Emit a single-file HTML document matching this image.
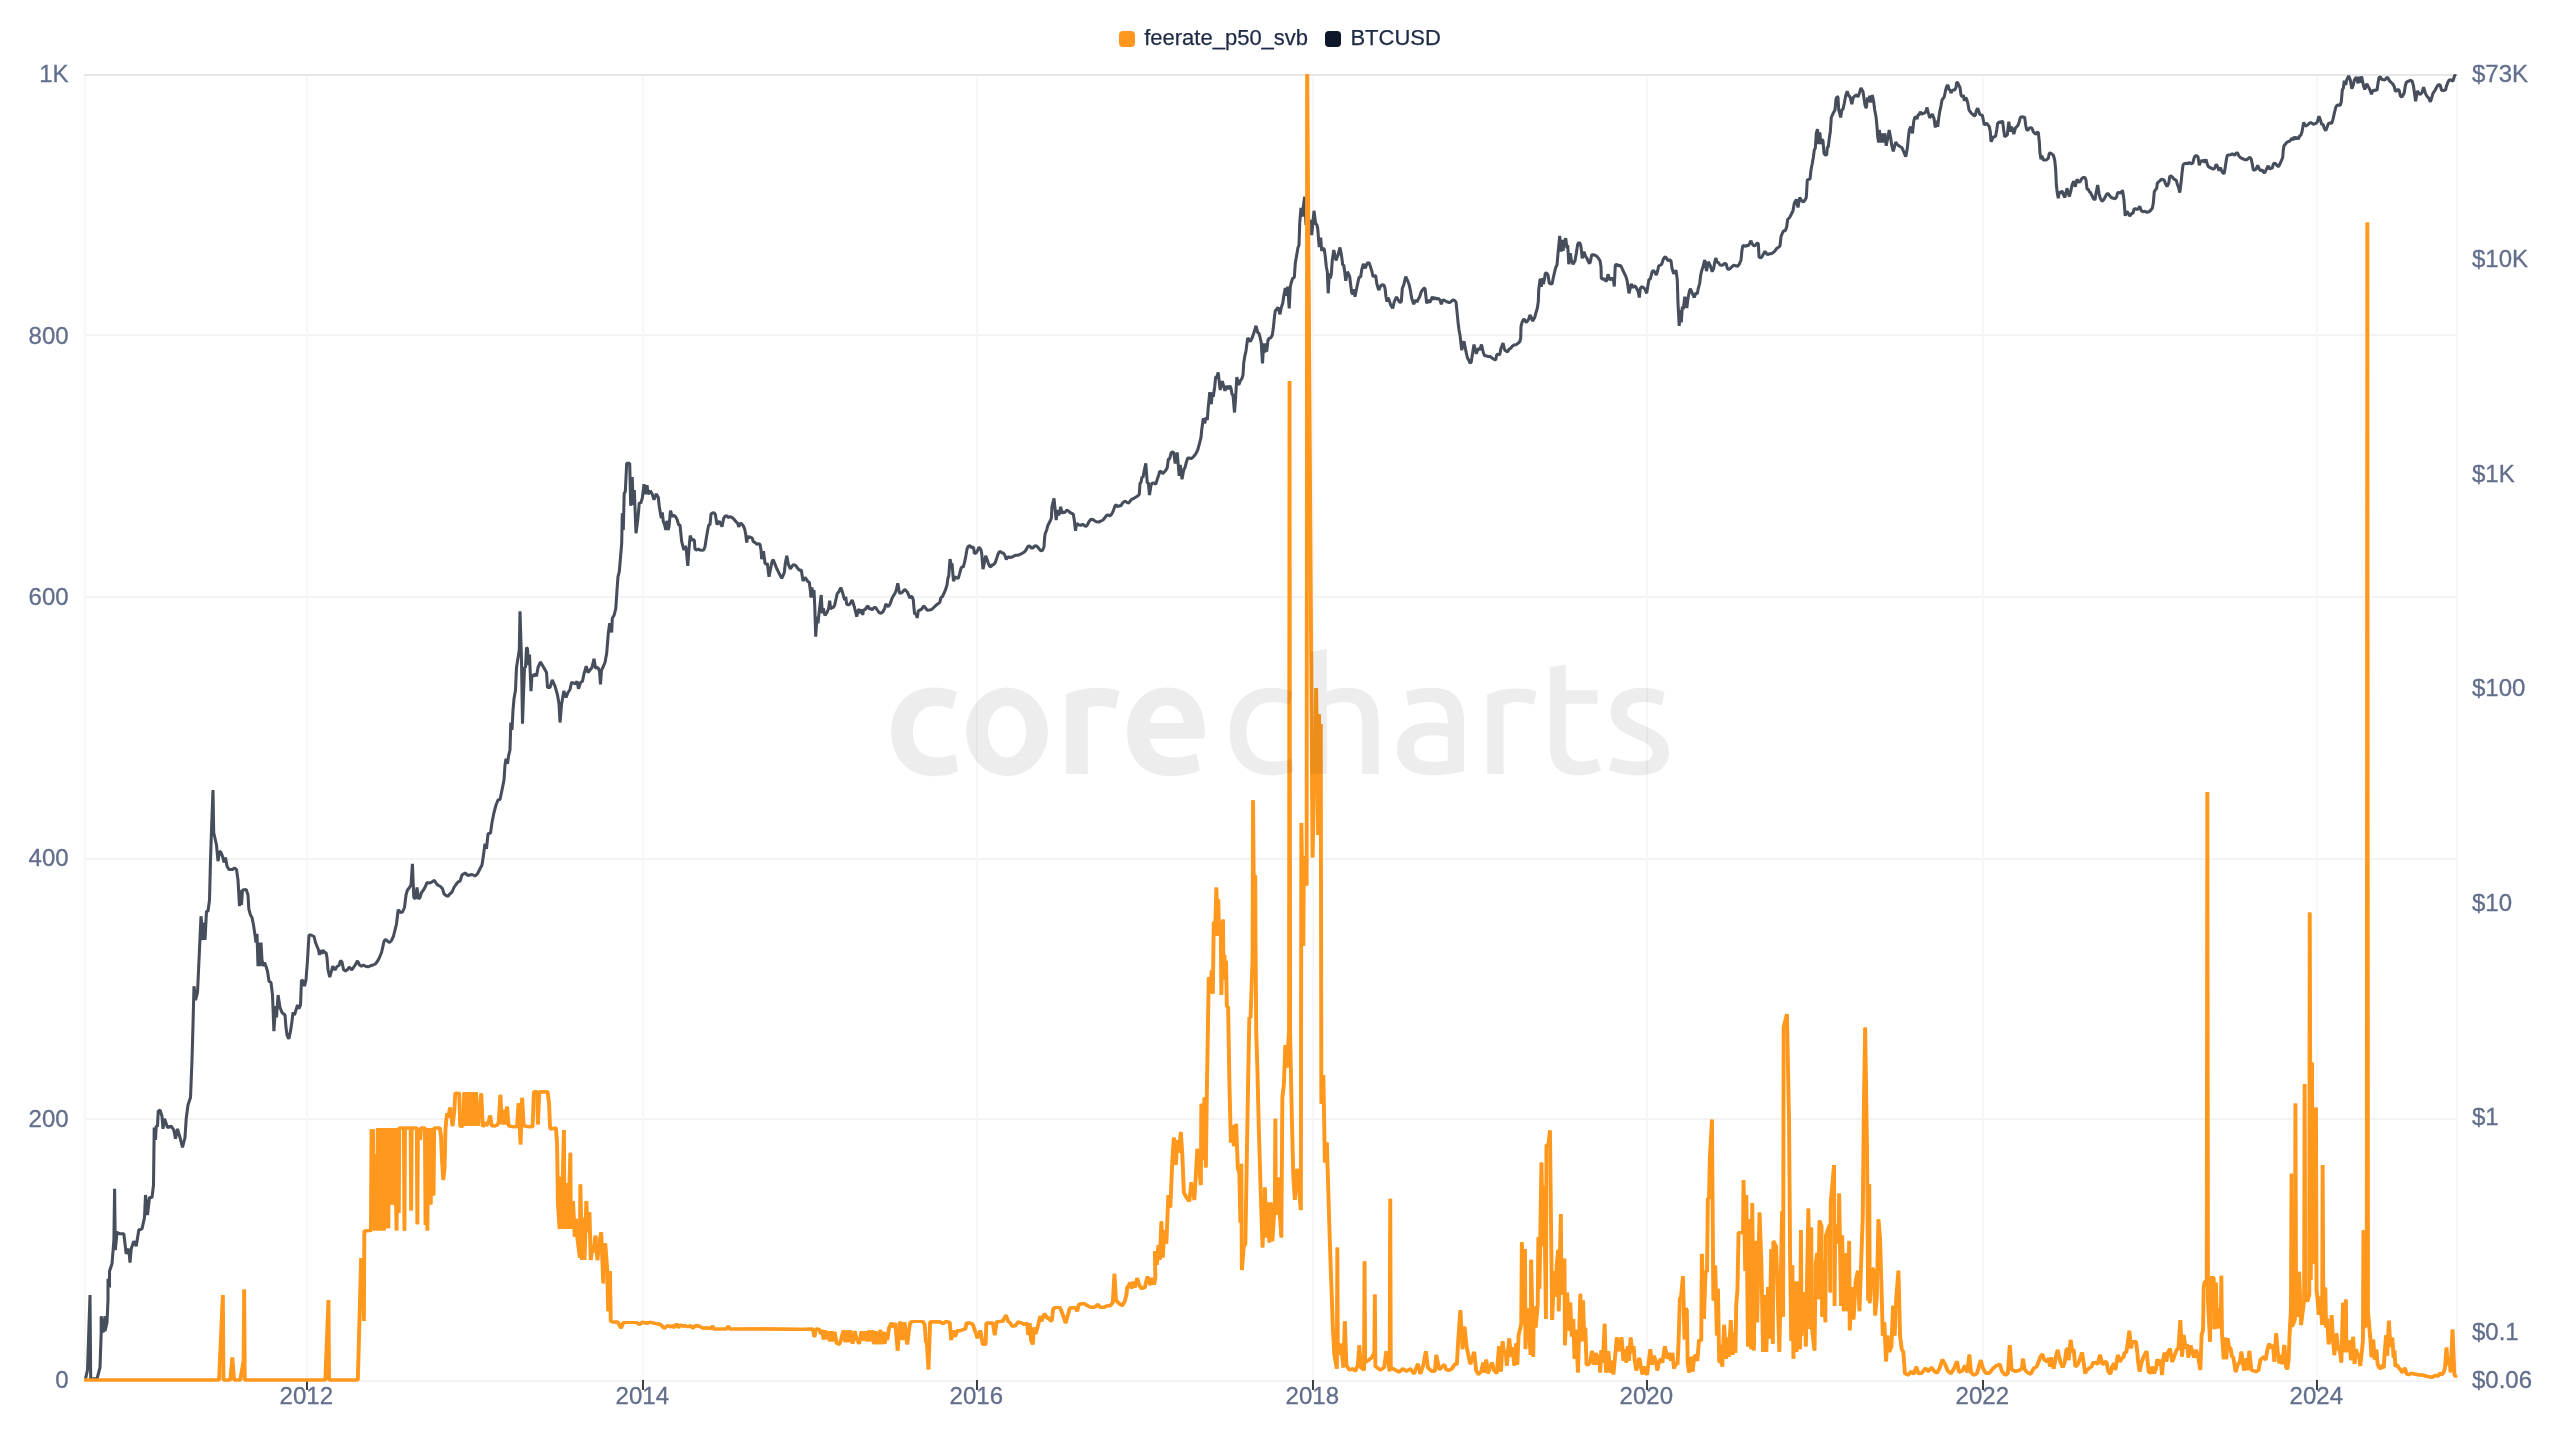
<!DOCTYPE html>
<html><head><meta charset="utf-8"><title>corecharts</title>
<style>html,body{margin:0;padding:0;background:#fff}body{width:2560px;height:1440px;position:relative;overflow:hidden;font-family:"Liberation Sans",sans-serif}</style></head>
<body>
<svg width="2560" height="1440" viewBox="0 0 2560 1440" style="position:absolute;left:0;top:0;display:block;will-change:transform">
<defs><clipPath id="cp"><rect x="83" y="74" width="2376" height="1309"/></clipPath></defs>
<rect x="85" y="334" width="2372" height="2" fill="#f2f3f5"/>
<rect x="85" y="596" width="2372" height="2" fill="#f2f3f5"/>
<rect x="85" y="858" width="2372" height="2" fill="#f2f3f5"/>
<rect x="85" y="1118" width="2372" height="2" fill="#f2f3f5"/>
<rect x="306" y="75" width="2" height="1305" fill="#f7f7f8"/>
<rect x="642" y="75" width="2" height="1305" fill="#f7f7f8"/>
<rect x="976" y="75" width="2" height="1305" fill="#f7f7f8"/>
<rect x="1312" y="75" width="2" height="1305" fill="#f7f7f8"/>
<rect x="1646" y="75" width="2" height="1305" fill="#f7f7f8"/>
<rect x="1982" y="75" width="2" height="1305" fill="#f7f7f8"/>
<rect x="2316" y="75" width="2" height="1305" fill="#f7f7f8"/>
<rect x="84" y="75" width="2" height="1305" fill="#f7f7f8"/>
<rect x="2456" y="75" width="2" height="1305" fill="#f7f7f8"/>
<rect x="84" y="74" width="2374" height="2" fill="#e5e7eb"/>
<rect x="84" y="1380" width="2374" height="2" fill="#f3f4f6"/>
<rect x="306" y="1380" width="2" height="10" fill="#3d3f47"/>
<rect x="642" y="1380" width="2" height="10" fill="#3d3f47"/>
<rect x="976" y="1380" width="2" height="10" fill="#3d3f47"/>
<rect x="1312" y="1380" width="2" height="10" fill="#3d3f47"/>
<rect x="1646" y="1380" width="2" height="10" fill="#3d3f47"/>
<rect x="1982" y="1380" width="2" height="10" fill="#3d3f47"/>
<rect x="2316" y="1380" width="2" height="10" fill="#3d3f47"/>
<g clip-path="url(#cp)" fill="none" stroke-linejoin="bevel" stroke-linecap="butt">
<path d="M85.5 1378.8L87.5 1370L90 1295L90.7 1378.8L97 1378.8L100 1367.5L101.2 1332.5L101.2 1316.2L103 1332.5L105 1316.2L105 1331.2L107 1322.5L108 1300L108 1278.8L109.5 1287.5L109.5 1271.2L112 1263.8L113.9 1240L114.6 1188.8L115.3 1250L117 1232.5L120 1233.8L123.8 1233.8L126.2 1253.8L128.8 1248.8L130 1262.5L131.2 1248.8L133.8 1241.2L136.2 1246.2L138.8 1230L142 1228.8L144.5 1217.5L145.5 1195L147.5 1215L149.5 1197.5L152 1197.5L153.5 1185L154.2 1127.5L155.5 1140L156.2 1126.2L157.5 1126.2L158.2 1111.2L160 1110L162 1116.2L163 1128.8L164.5 1118.8L167.5 1127.5L171.2 1126.2L173.8 1130L175.5 1138.8L177.5 1128.8L180 1137.5L182.5 1147.5L185 1137.5L186.2 1118.8L188 1105L190.5 1097.5L192 1060L193 1025L194 986.2L195.5 1000L197.5 992.5L199 960L201 916.2L203 940L204 922.5L205 940L206.5 911.2L208 911.2L209.5 900L210.5 860L211.5 830L213 790L213.7 832.5L216.5 845L218 861.2L219.5 851.2L221 852.5L222.5 856.2L224 862.5L225.5 857.5L227 866.2L229 869.5L232.5 869.5L234.5 868L236.5 869.5L238 880L239.5 906.2L240.5 890L241.5 905L242.5 890L246.2 889.5L248 895L248.8 908.8L250.5 915L252 917.5L253.5 925L255 935L256 942.5L257 933.8L258 966.2L259 942.5L260 966.2L261 942.5L262 960L263.5 966.2L264.5 962.5L266 966.2L267.5 971.2L269 981.2L271 982.5L272.5 995L273.9 1031.2L275.5 1006.2L276.5 1017.5L278.1 995L280 1007.5L282 1012.5L283.5 1013.8L285 1015L286 1027.5L287 1035L288.8 1038.8L290.5 1031.2L292 1021.2L293 1012.5L294.5 1015L296 1010L297.5 1005L299 1008.8L300.5 1005L301.5 980L303.5 981.2L304.5 986.2L306 980L307.5 960L309 935L311 935L314 936.5L315.5 942.5L317 946.2L318.5 950L319.5 955L320.5 950L322 953.8L323 950L324.5 952.5L326 952.5L327 957.5L328 970L329.8 977.2L332.8 966.2L335 970L337 966.5L339 965.5L340.5 960.8L342 962L343.5 969.5L345.5 971.2L347.5 969.5L349.5 967L351.5 970L353.5 967.5L355.5 964.5L357.5 960.8L359.5 965L361.5 966.2L363.5 965L365.5 966.2L368 966.8L370.5 965.8L373 965L375.5 963.8L377.5 961.2L379.5 957.5L381.5 952.5L383 946.2L384 941.2L385.5 939.5L387.5 941.2L389.5 942.5L391.5 940.5L393.5 936.2L395 930L396.5 923.8L398.2 909.8L400.5 912.5L402.5 912L404.5 907.5L406 895L407.5 890L409.5 887.5L411 885L412.4 863.8L413.8 897.5L415.5 898.8L417 887.5L418.5 898.8L420 897.5L421.5 892.5L423.5 890L425.5 886.2L427 882.5L429 883L431 882.5L433 881.2L434.5 880.5L436.5 883.8L438.5 885.5L440.5 886.5L442.5 888.8L444 893.8L446 895.5L448 896.2L450 893.8L452 892L454 887.5L456 884.5L458 882L460 881.2L462 875L465 873L468 875.5L472 874.5L475 876L477.5 873.8L480 868.8L482 865L483.5 855L485 843.8L486.5 848.8L488 833.8L490.5 833L492 822.5L494 812.5L496 805L498 800L500 799.5L502 790L504 780L505 765L506 758.8L507.5 763.8L508.5 756.2L510 750L510.8 722.5L512 730L513 710L514 698.8L515.5 690L516.5 667.5L519.3 650L520 611.2L521.5 660L522.5 723.8L523.5 695L524.5 667.5L525.5 667.5L526.5 647.5L527.5 648.8L528.5 665L529.5 654.5L531 691.2L532 675L533.5 676.2L535 673.8L536.5 676.2L538 667.5L540.5 662L543 666.2L546.5 672.5L547.5 687.5L550 687.5L552.2 679.8L555 686.2L557.5 695L559 703.8L560 722.5L561.5 705L563.8 690.9L566 697.5L568 692.5L570 689.5L571.5 682.5L573.5 683L575.5 683.8L577 681.2L578.5 688.8L580.5 682.5L582.5 681.2L584 673.8L586.2 666.2L588 672.5L590 670L592 667.5L594 658.8L595.5 668L598 667.5L599.5 671.2L600.5 684.5L601.5 670L602.5 668.3L605 662.5L606.7 653.3L608.3 633.3L609.7 623.3L611.7 632.5L612.3 618.3L614.2 615L615.8 608.3L617 590L618 576.7L619.3 571.7L620.7 555L621.7 543.3L622.3 513.3L623.3 530L624.2 493.3L625.3 491.7L626.7 463.3L629.7 463.3L630.7 505.8L632.2 477.1L633.3 505L634.3 490L636 533.3L637.7 520L638.7 510L639.3 502.5L640.7 503.3L642.3 498.3L644 484.2L645.3 494.2L647 485.2L648.3 494.2L650.2 490.8L652.3 494.2L654 499.8L656.3 493.9L658.3 497.5L659.3 506.7L660.3 512.5L661.3 518.3L662.3 512.5L663.3 521.7L664.7 525L665.7 530L667 520.8L668 530L669 526.7L670.5 510.6L672.3 516.7L673.7 515.3L675.3 516.3L677 519.2L678.7 525L680 525L681 535L681.7 541.7L683 546.7L684 550L685.3 545.8L686.3 550L687.8 565.8L689 548.3L690.2 535.6L691.7 540L693.3 539.7L694.3 540L695 549.2L696.7 550L698.3 549.2L700 550L702 550.3L703.7 550L705 546.7L706.3 538.3L707.7 530L708.7 525L710 524.7L711 514.2L712.3 513L714 512.7L715.3 514.2L717 524.6L719.3 521.2L722 526.7L723.7 518.3L725 516.3L726.7 515.8L728.3 517.5L730 516.7L732 517.5L734 519.2L736 521.7L737.7 523.3L738.7 526.7L740.8 522.9L743.3 525.8L744.7 529.2L745.7 534.2L746.7 542.5L747.7 535.8L748.7 538.3L749.7 536.7L751 537.5L752.3 538.3L753.3 541.7L755 542.5L756.7 544.2L758.3 543.7L760 544.2L761 550L761.7 559.2L763.5 551.2L765 563.3L766.3 564.2L767.3 563.3L769 576.7L770.7 568.3L772 561.7L773.3 559.7L775 564.2L776.7 568.3L778.3 571.7L780 575L781.7 578.3L783 575.8L784.3 572.5L785.3 563.3L786.8 555.8L788.3 564.2L790.3 568.8L792.7 565.3L794.3 564.7L796 565.8L797.7 568.3L799.3 570.3L801.3 570L803 581.1L805 577.5L806.3 579.2L807.7 581.3L809.3 582.5L810.3 590L811 597.5L812 587.5L813 597.5L814 590L814.7 605L815.7 636.7L817 616.7L818 623.3L819 613.3L820 605L821.2 595L822.3 613.3L823.3 608.3L825 615.4L827 612.5L828.7 608.3L829.7 600.8L830.7 609.2L831.7 607.5L833.3 607.5L834.7 605L836 599.2L837.3 593.3L839 591.7L840.8 587.5L842.3 591.7L843.7 596.7L844.7 600L845.7 596.7L846.7 604.2L848.3 605L849.7 604.2L852.2 600L854.3 606.7L855.7 612.5L856.7 616.7L858 610.8L859.3 609.2L860.7 613.3L861.7 609.2L862.7 615L863.7 609.2L865 610L866.3 607.5L868 605.8L869.3 609.2L870.7 608.3L872.3 610L874 607.5L875.7 607.5L877.3 610L879 612.5L881 613.3L883 611.7L884.7 608.3L885.7 604.2L887 605L888.3 606.7L890 604.2L891.7 599.2L893.3 595.8L895 593.3L896.3 590L897.8 583.3L899.3 592.5L900 593.3L902 592.5L904.7 589.4L907.3 592L908.7 595L909.7 598L911 596.3L912.3 597L913.3 600L914 608.3L914.7 614.2L915.7 613.3L917.2 617.9L918.3 610.8L920 610L921.7 609.2L923 606.7L924.3 606.3L925.7 608.3L927.3 610.3L929.3 610L931.7 609.5L933.7 607.5L936 605.3L938 603.7L939.7 602.5L941 597.5L942.3 596.7L944 593.3L945.7 589.2L947 585L948 577.5L948.7 576.7L950 559.2L951.3 565L952 563.3L953.5 581.2L955 576.7L956.7 578L958.3 578.3L959.7 573.3L961 568.3L962 566.7L963.3 567L964.7 561.7L966 555L967 549.2L968.3 546.3L970 545.8L971.3 547.5L972.7 547L973.7 548.3L974.3 553.3L975.7 553.3L977 551.7L979 547.2L981 550L981.7 553.3L983 569.2L984.3 563.3L985.7 555.8L987.3 560L988.3 563.3L989.7 566.3L991 566.7L992.3 564.7L993.7 564.7L995.3 562.5L996.7 558.3L998 554.2L999.3 551.7L1000.7 551.7L1002 553L1003.3 553L1004.7 555L1006.3 559.5L1008 556.7L1009.7 557.5L1011.3 557.3L1013.3 556.3L1015.3 555.3L1017.7 555.3L1020 554.3L1022.3 553.3L1024.3 552L1026 550L1027.3 547.5L1028.7 545.8L1030 546.3L1031.3 548L1033 548L1034.3 546.3L1036 545.8L1037.7 547L1039.3 549.2L1041 550.8L1042.7 550L1044 546.7L1044.7 536.7L1045.3 533.3L1046.7 530L1047.7 525.8L1049 523.3L1050.3 520.8L1051.3 518.3L1052 506.7L1054 498.3L1056.2 520L1057.3 510L1058.3 515L1059.7 513.3L1060.7 506.7L1062 513.3L1063.3 512L1065 512.5L1066.7 510L1068.3 510.8L1070 512.5L1071.7 513.3L1073.3 514.2L1074.3 520L1075.5 530.8L1076.7 523.3L1078.3 524.7L1080.7 525.3L1082.7 524.3L1084.3 525.5L1086 526.3L1087.3 525L1089 521.7L1090.7 519.5L1092.3 519.2L1094.3 520.5L1096.3 521.7L1098.7 522L1101 521L1103 520L1105 517.5L1106.7 515.3L1108.3 515L1110 515.8L1111.7 514.2L1113.3 510.8L1114.7 506.7L1116 504.7L1117.7 506.7L1119.3 505.8L1121 505.8L1122.3 503.3L1124 501.7L1125.7 501.3L1127 502.5L1128.7 503L1130.3 500.8L1132 499.2L1134 498.3L1136 497L1138 495.8L1139.3 494.2L1140 483.3L1141 482.5L1142 476.7L1143 477.5L1144 471.7L1145.8 463.3L1147.3 483.3L1148.3 482.5L1149.5 495L1151 485L1152.3 483.3L1154 483L1155.7 484.2L1157.3 479.2L1158.7 475L1159.7 471.3L1161.3 471.7L1162.7 473.7L1164.3 472L1166 470L1167.3 467.5L1168.3 459.2L1169.7 458.7L1171 453.3L1172.3 451.7L1173.7 452.5L1175.2 463.5L1177.2 452.5L1179.2 475.8L1180.3 465L1182 479.2L1183.7 470L1185 467.5L1186.3 462.5L1187.7 458L1189.3 458L1191 458.7L1192.7 457.5L1194.3 455.8L1196 453.3L1197.7 450L1199.3 444.2L1201 437.5L1201.7 430L1203.3 418.3L1204.7 423.3L1206 417.5L1207.3 420L1208.3 406.7L1209.8 392.1L1211.3 404.2L1212.3 392.5L1213.3 396.7L1214.7 386.7L1215.7 376.7L1216.7 377.5L1218.2 372.5L1220.2 390L1222.3 381.2L1225 390.8L1227 385.8L1228.3 389.2L1229.7 385.8L1231 388.3L1232 394.2L1233 395L1234.5 412.5L1235.7 396.7L1236.8 377.1L1238.8 385L1240.3 380.8L1242 378.3L1243 375L1243.7 363.3L1244.7 356.7L1246 350.8L1247.7 337.9L1250.3 341.7L1252.3 337.5L1254 332.5L1256 325.8L1257.7 332.5L1259 333.3L1260.3 338.3L1261.3 343.3L1262.5 363.3L1263.7 343.3L1264.7 352.5L1265.7 343.3L1266.7 351.7L1268 340L1269.3 338.3L1271 337.5L1272.3 335L1273.3 328.3L1274.3 318.3L1275.3 310.8L1276.7 309.2L1278 307.5L1280 314.2L1281.3 307.5L1282.7 303.3L1283.7 296.7L1285.3 287.9L1286.7 295.8L1287.7 286.7L1289.2 308.3L1290.3 286.7L1291.3 282.5L1292.7 278.3L1294.3 277.5L1295.3 263.3L1296.7 255L1298 247.5L1299 245L1299.7 223.3L1301 207.9L1302.3 216.7L1303.3 206.7L1304.7 196.7L1306 225L1310 220L1311.7 235L1314 210.8L1315.7 224.2L1316.7 224.2L1317.7 228.3L1319.2 247.1L1320.7 237.5L1321.7 250.8L1323 248.3L1324.3 249.2L1325.3 256.7L1326.3 266.7L1327.3 271.7L1328.2 293.3L1329.3 273.3L1330.3 278.3L1331.3 274.2L1332.3 260L1333.8 250L1336 260.4L1338 255L1340 247.5L1341.7 256.7L1342.7 265L1343.7 265L1344.7 271.7L1345.7 280.8L1347.5 271.7L1349.7 276.7L1350.7 285L1351.7 292.5L1353 294.2L1354 289.2L1355 296.7L1356.3 290L1357.7 283.3L1359 277.5L1360.7 276.7L1361.7 270L1363.3 263.8L1365.3 268.3L1366.7 264.2L1368 262.5L1369.3 263.3L1370.7 267.5L1372 271.7L1373 276.7L1374.3 275.8L1375.7 275.8L1376.7 283.3L1378.7 290L1380.7 285.8L1382.3 284.7L1384 285.3L1385 288.3L1386 296.7L1387 301.7L1388 297.5L1389.3 300.8L1390.7 305L1392.7 308.3L1394.3 301.7L1396.5 296.9L1398.7 300.8L1400 302.5L1401.3 301.7L1402.3 288.3L1403.7 285L1405.7 276.7L1407.7 280.8L1409 284.2L1410.3 290L1411.7 298.3L1413.7 304.2L1415.7 300L1417 302L1418.3 299.2L1419.7 296.7L1421 292.5L1422.3 290L1424 288.3L1425 288.3L1426.7 303.3L1428.3 300L1429.7 302.5L1431 300L1432.3 296.7L1433.7 299.2L1435 297.5L1436.7 299.2L1438.3 298.3L1440 300L1441.3 304.2L1442.7 300L1444.3 300.3L1446 301.3L1447.7 302L1449.3 302.7L1451 301.7L1452.7 300L1454.3 300.3L1456 302L1457 311.7L1458 321.7L1459 330L1460 335L1461.7 350L1464 341.2L1466 351.7L1467.3 357.5L1468.7 360L1470 363.3L1471.3 361.7L1472.3 355L1474 344.6L1476.3 353.8L1478.3 348.3L1479.7 350L1481.5 344.6L1483.3 352.5L1484.7 355.8L1486.3 355.8L1488.3 356.7L1490 356.3L1492 358L1494 359.2L1495.7 360L1496.7 354.7L1498.3 354.2L1499.7 355L1501 348.3L1503 343L1504.7 350L1506.3 351.3L1507.7 351.7L1509 349.2L1510.7 348.3L1512.3 346.3L1514 345L1516 344.7L1518 343.3L1519.7 341.7L1520.7 338.3L1521 326.7L1522 322.5L1523.8 318.8L1526.5 322.5L1528.7 319.2L1530 315L1531 316.7L1532.7 321.1L1534.7 317.5L1536 312.5L1537.3 308.3L1538.3 301.7L1538.7 290L1540.2 278.8L1541.3 286.7L1542.3 278.3L1543.3 284.2L1544.3 280L1545.3 273.3L1546.7 273L1548 275L1549.3 283.3L1550.7 283.7L1552 284.2L1553 279.2L1554.3 273.3L1555.7 267.5L1557 265L1558 253.3L1559.7 235.8L1561 251.7L1562 240L1563 250.8L1564 243.3L1565.7 238.3L1567 248.3L1567.7 245L1568.8 264.2L1570.3 253.3L1571.3 260L1573 264.2L1575 260.8L1576.3 253.3L1577.7 244.2L1578.7 242.5L1580 243.3L1581 246.7L1582.2 258.3L1584 251.7L1585.7 256.7L1587 258.3L1588.3 261.7L1589.7 263.7L1590.7 260L1591.7 254.7L1593.3 254.7L1595 255.3L1596.7 256.3L1598.3 258L1600 260.8L1601 266.7L1601.3 278.3L1602.7 279.2L1604.3 278.7L1606 281.3L1607 280L1608 274.2L1609.3 278.7L1610.7 279.7L1612 278L1613.3 279.2L1614.3 286.5L1615.3 265L1616.7 264.3L1618.3 265.8L1620 265.3L1621.3 266.7L1622.7 270L1624.3 273.3L1626 276.7L1627.3 281.7L1629 293.3L1631.3 283.9L1633 287.5L1634.3 285.8L1635.7 286.7L1637 289.2L1638.3 291.7L1639.3 297.5L1640.3 288.3L1641.7 286.7L1643.3 287.5L1645 289.2L1646.7 293.3L1648 285L1649 279.2L1650.3 279.2L1651.3 275L1652.3 271.3L1653.7 270.8L1655 272.5L1656.3 275L1657.7 270.8L1658.7 265.8L1660 265.3L1661.7 264.2L1663 260L1664.3 257.5L1665.7 257L1667 259.2L1668.3 260.8L1669.7 259.7L1671 260.8L1672 268.3L1673.7 273.8L1676 270.2L1677.3 280L1678 303.3L1679.2 325.8L1680.3 310L1681.3 322.5L1682.3 306.7L1683.3 309.2L1684.8 296.7L1686.8 308L1688 298.3L1689.3 291.7L1690.3 288.7L1691.7 291.7L1693 295L1694.3 297.5L1695.7 293.3L1697.3 293.7L1698.3 288.3L1699.7 283.3L1700.7 275L1701.7 270.8L1703 266.7L1704.8 260L1706.5 271.1L1708.3 261.8L1710.3 265.8L1712.2 271.7L1713.7 268.3L1715 260.8L1716 258L1717 262L1718.3 262.5L1720 265L1721.7 265.3L1723.3 264.7L1725 263.3L1726.3 264.2L1727.3 268.3L1728.7 269.7L1730.3 268.3L1732 266.7L1733.7 265.3L1735.7 265.7L1737.7 266.3L1739.3 264.2L1741 260L1742 250L1743 245.3L1744.3 245.8L1745.7 246.3L1747 245.3L1748.3 245.8L1749.7 243.3L1751 240.8L1752.3 244.2L1754 245.8L1755.7 245L1757 243.3L1758.3 243.3L1759 256.7L1760.3 258L1762 256.7L1763.3 254.2L1765 251.3L1766.3 253.3L1767.7 254.7L1769.3 253.7L1771.3 253.7L1773.3 252.5L1775 250.8L1776.7 248.3L1778.3 247.5L1780 245.8L1781 236.7L1782.3 233.3L1783.7 230.8L1785.3 230.8L1786.7 226.7L1787.7 219.2L1789 218.3L1790 216.7L1791.3 214.2L1793 210.8L1794.3 203.3L1796.3 199.4L1798 207.5L1799.7 197.5L1801.7 200.8L1803.3 202L1805 200L1806.3 197.5L1807.3 180L1808.7 179.2L1810 179.2L1811 170L1812.3 163.3L1813.3 157.5L1814.3 150L1815.3 148.3L1816.3 133.3L1817.5 129.2L1818.7 144.2L1819.8 132.5L1821 144.2L1822 139.2L1823 140.8L1824 153.3L1825.3 155L1826.7 155L1827.3 147.5L1828.3 146.7L1829.3 138.3L1830.3 131.7L1831.3 117.5L1832.7 114.2L1834 111.7L1835 110L1836 99.2L1837 96.7L1838 97L1838.7 110L1839.7 113.3L1840.7 117.5L1841.7 110L1843 109.2L1844.3 103.3L1845.7 95.8L1847.2 91.3L1848.7 95.8L1850 96.7L1851.8 104.2L1853.3 97.5L1855 95.8L1856.7 95L1858 97L1859.3 93.3L1861 87.9L1863 91.7L1864 98.3L1865 105L1866.2 108.3L1867.7 97.5L1868.7 101.7L1869.7 95.8L1870.7 102.5L1872.3 95L1873.7 101.7L1874.7 110L1876 116.7L1877 126.7L1877.7 136.7L1878.7 142.5L1879.3 130L1881 142.5L1882.7 133.3L1883.7 142.5L1884.7 133.3L1886.2 145.8L1887.7 138.3L1889.2 130L1890.7 138.3L1891.7 145L1893.3 151.3L1895.7 142.1L1897.7 145L1899 145.8L1900.3 146.7L1901.7 147.5L1903 150L1904.3 153.3L1905.8 156.7L1907.3 148.3L1908.3 138.3L1909.3 130L1910.8 126.7L1912.5 133.3L1913.7 121.7L1914.7 117.5L1916 116.7L1917 119.2L1918 115L1919.3 114.7L1920.3 111.7L1921.7 114.2L1923.3 113.3L1925 113L1926.3 110L1927 107.5L1928 111.7L1929.7 117.8L1932.3 114.2L1934 118.3L1935.3 127.5L1936.7 120.8L1937.7 126.7L1938.7 118.3L1939.7 111.7L1941 105.8L1942 100L1943.3 98.3L1944.3 96.7L1945.3 91.7L1946.3 87.5L1947.8 84.8L1949.3 90L1950.3 90L1951 93.3L1952 90.8L1953.3 90L1954.7 90L1956 87.5L1956.7 82.5L1957.7 82.5L1958.7 85L1960 87.5L1961 95L1962.3 96.7L1963.3 95L1964.3 100.8L1965.7 97.5L1967 100L1968 104.2L1969 110L1970.3 111.7L1971.3 113.3L1972.7 114.2L1974 115.8L1975.3 115.3L1976.3 110.8L1977.7 108.3L1978.7 110.8L1979.7 114.2L1981 115L1982.3 115L1983.3 120L1984.3 125L1985.3 124.2L1986.7 123.3L1988 125L1989.3 126.7L1990.3 131.7L1991 141.7L1992 140L1993 137L1994.3 137L1995.7 135.8L1996.7 130L1997.7 123.3L1999 122L2000.3 122.5L2001.7 121.3L2002.7 121.7L2003.7 130L2004.7 136.7L2006 135.8L2007.3 135L2008.8 121.7L2010.3 131.7L2011.3 126.7L2012.3 128.3L2013.8 134.2L2015.3 128.3L2016.7 126.7L2018 125.3L2019.3 121.7L2020.3 117.5L2021.7 116.7L2023.3 117L2024.7 117.5L2025.7 125L2026.7 130L2028 130L2029.3 128.3L2030.7 127.5L2032 128.3L2033.3 131.7L2034.7 133.3L2036 134.2L2037.3 132L2038.3 132.5L2039.3 141.7L2040 153.3L2041 159.2L2042 155.8L2043.3 160L2045 160L2046.7 159.7L2048.3 158.3L2049.3 153.3L2050.7 153L2052 154.2L2053.3 155L2054.7 160L2055.7 170L2056.3 184.2L2057.3 193.3L2058.3 198.3L2059.3 191.7L2060.7 193.3L2062 190.8L2063.3 194.2L2064.7 197.5L2066 192.5L2067 188.3L2068 191.7L2069.3 196.7L2070.7 191.7L2072 185L2073.7 181.2L2075.3 186.7L2077 179.4L2079 182.5L2080.3 181.3L2081.7 178.7L2083.3 177.5L2085 177.5L2086 180L2087 189.2L2088.3 189.2L2089.7 192.5L2090 191.7L2091.7 195L2093.3 198.3L2095 200L2096 193.3L2097.7 185L2099 193.3L2100.3 198.3L2102 201.3L2103.7 199.7L2105.3 196.7L2107 193.7L2108.3 193.7L2109.7 195.8L2111.3 197.5L2113.3 198.3L2115.3 198.7L2116.7 196.7L2117.7 192.5L2119 192.5L2120.3 193.3L2122.5 190.3L2124 200L2125.2 215.8L2127 211.2L2129.7 216.1L2131.7 213.3L2133 213.3L2134 209.2L2135.3 208.7L2136.7 209.2L2138 209.2L2139.7 206.3L2141.3 210.8L2143 211.7L2145 211.3L2147 212.3L2149 211.7L2150.7 210.3L2152.3 208.3L2153.3 203.3L2154.3 191.7L2155.3 190L2156.7 188.3L2157.3 183.3L2158.7 181.7L2160 180.8L2161.3 179.2L2162.7 179.7L2164 179.7L2165.3 183.3L2167 186.5L2168.7 183.3L2169.7 176.7L2171 175.8L2172.3 177L2173.7 178.7L2175 179.7L2176.3 180.3L2177.3 184.2L2178.3 186.7L2179.8 192.5L2181 183.3L2182 173.3L2183 165L2184.3 163.7L2186 163.3L2187.7 163.7L2189.3 162.5L2191 163.7L2192.7 163.3L2194 158.3L2195.3 155.8L2196.7 155.8L2198 156.7L2199.3 165.2L2201 160L2202.3 162L2203.7 159.7L2205 162.5L2206 159.3L2207 163.3L2208.3 166.7L2210 167.5L2211.7 168.3L2213.3 169.2L2214.7 168.3L2216.2 164.2L2218 167.5L2219 170.8L2220.3 167.5L2221.7 170.8L2223 173.3L2224.3 173.3L2225.3 166.7L2226.3 160L2227.3 155.3L2229 155L2230.7 154.7L2232.3 153.7L2233.7 155L2235 154.7L2236.3 153L2237.7 153L2238.7 155.8L2240.3 157.5L2242 158.3L2243.7 159.2L2245.3 159.7L2247 159.7L2248.7 158L2250 157.5L2251.3 159.2L2252.3 164.2L2253.3 170L2254.7 170L2256 169.2L2257.7 165.4L2259.3 169.2L2260.7 170.8L2262 169.7L2263.3 172L2264.7 173L2266 170L2267.3 167.5L2268.3 165.8L2269.7 169.2L2271 168.3L2272.3 168L2273.3 164.2L2274.7 163L2276 164.2L2277.3 165.8L2278.7 166.7L2280 163.7L2281.3 160.8L2282.7 157.5L2283.3 150L2284 145.8L2285.3 144.2L2286.7 142.5L2288 141.7L2289.3 141.3L2290.7 140L2292 138.3L2293.3 140L2294.3 136.7L2295.7 139.2L2297 137L2298.3 139.2L2299.7 135.8L2301 135L2302 131.7L2303.7 122.2L2305.3 126.3L2306.7 125.3L2308 124.7L2309.3 123.3L2310.7 122.5L2312 123.3L2313.3 124.2L2314.7 123.7L2316 123.3L2317.3 122L2319 116.2L2320.7 120.8L2321.7 124.7L2323 124.2L2324.3 128.3L2325.7 130.8L2327 127.5L2328.3 123.7L2330 123L2331.7 123.3L2333 119.2L2334.3 113.3L2335.7 107.5L2337 105.3L2338.7 105L2340.3 105.3L2341.3 101.7L2342.3 90L2343.3 88.3L2344.3 80.8L2345.7 85L2346.7 80L2348.7 75.8L2350.3 80L2351.8 88.8L2353.3 85L2354.3 80L2356.3 77.1L2358 83.3L2359 76.7L2360 82.5L2361.7 76.5L2363.3 85L2364.8 89.6L2366.8 83.8L2368.3 86.7L2369.7 89.2L2371.5 94.2L2373 90L2374.3 90.8L2375.7 89.7L2377 90.3L2378 83.3L2379 77.5L2380.3 76.7L2381.7 79.2L2383.3 79.7L2385 80L2386.3 78L2387.7 77.5L2389 80L2390.3 81.7L2391.7 83L2393 84.2L2394.3 86.7L2395.3 91.3L2396.7 90.8L2398 89.2L2399.3 90.8L2400.3 95.8L2401.7 97L2403 95.3L2404.3 92.5L2405.3 85.8L2406.3 82.5L2407.7 81.3L2409 81.3L2410 80.2L2412.2 81.2L2413.5 86.2L2414.4 92.5L2415.6 101.2L2417.4 90.9L2419.2 93.8L2420.5 94.4L2422 92.5L2423.6 87.2L2425.2 92.5L2426.2 95L2427.5 96.9L2428.8 98.1L2430.4 101.9L2431.8 97.5L2432.8 93.8L2434 91.9L2435.2 90L2436.5 87.5L2437.8 85.2L2439 84.4L2440.2 85.2L2441.5 90L2442.8 90.6L2444.2 90.2L2445.5 90L2446.5 86.2L2447.8 82.5L2449 80.2L2450.5 79.8L2451.8 80.6L2453 81.2L2454 77.5L2454.8 75L2455.8 76.2" stroke="#464d5b" stroke-width="3.05"/>
<path d="M84 1380L218.7 1380L222.5 1295L223.1 1380L230 1380L232 1357.5L233.7 1380L240 1380L243.3 1360L243.8 1289.5L244.4 1380L325 1380L328.1 1300L328.7 1380L357.5 1380L360.8 1258L363.5 1321L364 1231L370.6 1230.4L371.2 1129.2L371.9 1219.6L372.6 1129.2L373.3 1219.6L374 1154.2L374.6 1230.4L375.2 1154.2L375.8 1230.4L376.3 1154.2L376.9 1230.4L377.4 1128L377.9 1230.4L378.5 1128L379.1 1230.4L379.6 1128L380.2 1230.4L380.7 1128L381.3 1230.4L381.8 1128L382.4 1230.4L382.9 1128L383.5 1230.4L384 1128L384.3 1208.8L384.9 1128L385.6 1228.3L386.2 1128L386.9 1228.3L387.5 1128L388 1228.3L388.6 1128L389.9 1171.7L390.5 1128L391.3 1204.6L391.9 1128L392.6 1204.6L394.4 1128L396.2 1230.4L397.4 1128L398.4 1212.9L398.9 1128L403.6 1128L404.1 1230.8L404.6 1128L410.3 1128L410.8 1210.4L411.3 1128L416.5 1128L417 1224.2L417.6 1128L419.9 1140L420.5 1128L424.6 1128L425.2 1225L425.8 1128L427 1230.4L428 1128L428.9 1204.6L429.6 1128L430.4 1204.6L431 1128L431.8 1195.4L432.5 1128L433.2 1195.4L433.8 1128L439.5 1128L440.7 1136.7L441.6 1158.9L442.9 1180L444.2 1167.8L445.1 1130L446 1118.9L446.9 1113.3L447.8 1117.8L449.8 1107.6L451.3 1117.8L452.2 1126.1L454 1110L454.9 1093.3L458.9 1093.3L459.8 1125.6L461.1 1126.7L462.4 1125.6L464 1092.2L465.3 1125.6L466 1092.2L466.9 1125.6L467.6 1092.2L468.4 1125.6L469.1 1092.2L470 1125.6L470.7 1092.2L471.6 1125.6L472.2 1092.2L473.1 1125.6L473.8 1092.2L474.7 1125.6L475.6 1092.2L477.8 1125.6L480.9 1093.3L482.4 1126.7L484.7 1122.2L486 1125.6L488.2 1122.2L489.8 1115.6L491.3 1125.6L494.4 1126L496.7 1125.1L498.4 1122.2L500 1094.9L501.6 1124.4L503.1 1110L504.7 1124.4L506.7 1106.7L508.2 1125.6L512.2 1126.7L516.7 1126.7L518.2 1103.3L520.2 1144.4L521.8 1097.8L523.3 1125.6L527.8 1126.7L532.2 1126.7L533.6 1091.8L536.7 1091.8L537.6 1124.4L538.9 1091.8L547.3 1091.8L548.7 1103.3L549.6 1125.6L550 1128.9L555.6 1128.2L556.7 1143.3L557.6 1203.3L559.2 1228.9L559.8 1176.7L561.1 1228.9L563.6 1130L564.1 1228.9L566.4 1183.3L567.8 1228.9L570 1152.7L570.5 1228.9L572.7 1201.1L574.4 1236.7L575.8 1218.9L577.1 1238.9L579.5 1257.8L580 1184.4L581.6 1260L582.9 1217.8L584.2 1260L586 1201.1L587.3 1232.2L589.1 1212.2L590.4 1260L592.2 1245.6L593.1 1252.2L595.1 1235.6L597.1 1260L598.4 1245.6L600.9 1232.2L602.9 1283.3L604.9 1243.3L606.9 1270L607.8 1311.1L609.6 1271.1L610.4 1321.1L612.5 1322L617.5 1322.2L620.6 1328.1L623.1 1322.5L636.2 1322.5L639 1324.4L642.5 1322.2L646.2 1323.1L650 1322.2L655 1323.5L660 1324.4L663.8 1328.1L667.5 1325.6L670 1326.9L671.9 1325.6L673.8 1327.5L676.2 1323.8L678.1 1327.5L680 1324.8L682.5 1326.2L685 1325.6L687.5 1326.9L690 1325.6L692.5 1328.1L695 1325.6L698.8 1326.2L702.5 1328.1L706.2 1327.8L710 1328.5L712.5 1326.2L713.1 1329L726.2 1329L728 1326.2L729.4 1329L762.5 1328.8L800 1329.4L812.5 1329L814.1 1336.9L815.6 1329L818.8 1329.4L820.6 1333.8L821.9 1330L823.1 1339.4L825 1330.6L826.2 1338.8L828.1 1331.2L829.4 1341.2L831.2 1331.2L832.5 1341.2L834.4 1331.9L836.2 1343.1L838.8 1344.4L840.6 1340L843.1 1330.6L845 1341.9L846.9 1330.6L848.1 1341.9L850 1330.6L852.2 1343.8L854.4 1331.2L856.2 1338.8L858.8 1343.8L861.2 1331.2L863.1 1340.6L865 1331.2L866.9 1341.2L868.8 1330.6L870.6 1341.2L872.5 1330.6L873.8 1344L875 1331.2L876.2 1344L877.5 1331.9L878.8 1344L880 1330L881.9 1344L883.1 1331.9L884.4 1343.8L885.6 1332.5L886.9 1340L888.8 1327.5L891.2 1322.8L893.1 1327.5L895 1323.1L897.3 1350.6L899.4 1323.1L900 1321.9L900.5 1340L901 1322.5L901.5 1340L902 1322.5L902.5 1340L904.1 1322.2L906.9 1344.4L909 1327.5L910 1322.5L912.5 1321.5L922.5 1321.5L924.4 1325L925.6 1342.5L926.5 1342.5L928.1 1369.4L929.8 1321.9L940 1321.9L942.5 1323.8L945.6 1321.5L949.4 1322.5L950.9 1340L952.5 1330.6L954.7 1336.6L956.9 1330.6L960 1330.6L962.5 1329.8L965 1328.8L966.2 1323.1L970 1323.1L972.5 1324.4L974.4 1330L977.1 1338.1L980 1330.6L982.5 1344.4L985.2 1344.4L986 1323.1L992.5 1323.1L994.4 1335L996.2 1321.9L1002.5 1321.2L1005.6 1315.3L1007.8 1321.2L1010 1323.1L1011.9 1326.2L1015 1325.6L1018.1 1321.9L1021.2 1323.1L1024.4 1324.4L1026.9 1323.1L1027.8 1335L1029.4 1323.1L1030.6 1340L1032.5 1344.4L1033.5 1327.5L1035.3 1333.8L1037.5 1326.2L1040 1316.2L1041.2 1321.2L1044.1 1313.6L1046.9 1318.1L1048.8 1318.1L1050 1320.6L1051.5 1320.6L1052.8 1308.8L1055 1307.5L1059.4 1307.5L1061.2 1311.2L1065.3 1323.1L1069.4 1308.1L1075 1307.5L1076.9 1311.2L1078.5 1304.4L1083.8 1303.5L1086.9 1305.6L1091.2 1307.5L1095 1306.9L1097.5 1304.4L1100 1307.5L1103.8 1307.2L1106.2 1306L1110 1305.6L1112.5 1302.5L1114.1 1273.8L1115.6 1300L1118.1 1303.1L1121.9 1305.6L1124.4 1301.2L1126 1295L1126.9 1287.5L1128.8 1285L1130 1282.5L1131.2 1288.8L1132.5 1281.9L1134.4 1287.5L1136.9 1278.1L1138.8 1285L1141.2 1288.5L1144.4 1287.5L1147.2 1276.6L1150 1285L1151.2 1278.1L1153.8 1284.4L1155 1277.5L1154.5 1251.2L1156.5 1265L1158 1245L1159.5 1260L1161 1221.2L1162.5 1257.5L1164 1230L1166 1243.8L1168 1195L1170 1207.5L1172 1160L1173.5 1137.5L1175.5 1165L1177 1140L1178.5 1152.5L1180.5 1132L1182 1155L1183.5 1192.5L1186 1197.5L1189 1201.2L1191 1182.5L1194 1200L1197 1148.8L1200.5 1185L1201 1103.8L1202.5 1160L1204 1097.5L1205.5 1167.5L1206.5 1092.5L1208.4 977.3L1210.5 992.6L1211.3 970.2L1212.5 993.8L1213.4 921.8L1214.6 936L1216 887.6L1217.5 936L1217.9 899.4L1218.7 933.6L1220.4 921.8L1221 995L1222.6 919.5L1223.2 979.6L1224.1 954.9L1224.9 979.6L1225.7 960.8L1226.5 1006.8L1227.8 1006.8L1229 1080L1230.5 1142.5L1232 1125L1233.5 1146.2L1235.8 1123.8L1237.5 1168.8L1239 1172.5L1240 1222.5L1241 1163.8L1241.5 1270L1243.5 1245L1245 1245L1246.5 1155L1247.8 1080L1249 1017.4L1250.2 1017.4L1252.2 959.6L1252.7 800.3L1253.3 875.8L1254.9 875.8L1255.2 943.1L1255.9 1032.7L1257 1067.5L1258.5 1130L1260 1180L1262.2 1247.5L1264.5 1187.5L1266 1237.5L1267.5 1202.5L1269 1242.5L1270.5 1202.5L1272 1241.2L1274.5 1202.5L1275 1118.8L1275.5 1215L1278 1177.5L1279.5 1215L1281 1237.5L1282 1097.5L1283.5 1085L1285 1045L1286.5 1067.5L1288.7 1030L1289.2 381L1289.7 1030L1291.5 1117.5L1293 1177.5L1294.5 1200L1296.8 1168.8L1300.5 1210L1301 823L1303 946L1303.5 856L1306.3 885.6L1306.8 60L1312.2 857.5L1315.8 688L1317.8 835L1318.7 714.2L1319.6 800L1320.4 724L1321 1103.8L1323 1075L1324.5 1162.5L1326.5 1142.5L1328 1192.5L1329.5 1242.5L1331 1285L1332.5 1327.5L1334 1355L1336.5 1368.8L1337 1247.5L1337.5 1355L1340 1343.8L1341.5 1352.5L1343 1367.5L1344.5 1321.2L1346 1365L1349 1370L1352.5 1368.8L1355 1371.2L1357.5 1365L1359 1345L1360.5 1367.5L1363.7 1370L1364.2 1261.2L1364.8 1362.5L1368.5 1360L1371.5 1357.5L1374 1352.5L1374.5 1294.5L1375 1366.2L1380 1370L1383.8 1367.5L1386 1351.2L1389.3 1371.2L1389.9 1198.8L1390.4 1367.5L1395 1370L1398.8 1372L1402.5 1368.8L1406.2 1371.2L1410 1368.8L1413.8 1373.8L1417.5 1363.8L1420 1373.8L1423 1365L1425.5 1351.2L1427.5 1367.5L1431.2 1371.2L1434.5 1371.2L1436 1355L1439 1369.8L1441.9 1366.6L1443.9 1364.7L1445.8 1369.5L1448.7 1370.5L1451.7 1368.6L1454.6 1363.7L1456.5 1364.7L1457.9 1340.4L1460 1310.2L1462.2 1349.1L1464.1 1326.8L1466.4 1347.2L1469.9 1364.2L1473.8 1352L1475.8 1370.5L1478.1 1374.4L1480.8 1371.5L1482.8 1362.7L1484.3 1372.5L1485.9 1359.8L1487.8 1373.4L1489.8 1366.6L1491.7 1362.7L1493.7 1370.5L1496.4 1373.4L1498.7 1346.2L1500.7 1371.5L1502.2 1341.3L1503.8 1353L1505.3 1351.1L1506.5 1365.7L1508.8 1338.4L1510.8 1356.9L1512.3 1347.2L1513.9 1365.7L1515.8 1343.3L1517 1364.7L1518.2 1335.5L1520.9 1323.9L1521.5 1242.2L1523.2 1323.9L1524.6 1249L1525.1 1349.1L1527.5 1308.3L1530.2 1355L1530.8 1259.7L1532.9 1356.9L1533.5 1306.4L1535.3 1327.7L1537.4 1304.4L1538 1237.3L1539.1 1288.9L1541.1 1162.5L1542.6 1246.1L1543.8 1185.8L1545.6 1319L1546.1 1145L1548.1 1145L1549.6 1130.4L1551.8 1320L1553.9 1271.4L1555.5 1296.6L1556.3 1265.5L1557.8 1250L1558.4 1311.2L1560.5 1214L1561.1 1294.7L1564.1 1258.7L1564.6 1345.2L1566.8 1292.7L1568.7 1330.7L1569.9 1302.5L1571.4 1336.5L1573 1319L1574.1 1358.8L1575.7 1329.7L1577.6 1372.5L1580 1293.7L1581.5 1341.3L1582.7 1300.5L1583.9 1341.3L1585 1327.7L1586.2 1364.7L1587.8 1364.7L1589.7 1362.7L1591.6 1351.1L1593.6 1364.7L1595.5 1353L1597.5 1364.7L1599 1355L1599.8 1372.5L1601 1350.1L1602.5 1362.7L1604.3 1323.9L1605.6 1372.5L1608 1351.1L1609.9 1372.5L1611.1 1360.8L1613 1374.4L1614.2 1362.7L1616.5 1337.5L1618.5 1351.1L1621.2 1337.5L1623.1 1360.8L1624.7 1349.1L1625.9 1362.7L1627.4 1346.2L1628.6 1360.8L1630.3 1337.5L1632.1 1353L1633.2 1346.2L1634.4 1360.8L1636 1370.5L1637.5 1362.7L1639.1 1357.9L1640.6 1367.6L1642.2 1374.4L1643.7 1366.6L1646.7 1374.9L1650 1349.1L1651.9 1364.7L1653.5 1355.9L1655.4 1360.8L1657 1370.5L1658.5 1362.7L1660.5 1358.8L1662 1362.7L1664.5 1346.2L1667.1 1358.8L1669 1353L1670.6 1360.8L1672.1 1353L1673.7 1368.6L1675.6 1362.7L1677.2 1364.7L1678.3 1339.4L1679.5 1298.6L1680.7 1296.6L1682.6 1276.2L1684.2 1339.4L1685.3 1308.3L1686.5 1310.2L1687.3 1362.7L1688.8 1372.5L1690.8 1356.9L1692.3 1371.5L1693.9 1356.9L1695.5 1355L1697 1360.8L1698.6 1340.4L1700.9 1340.4L1701.5 1253.9L1703.6 1319L1705.2 1271.4L1706.7 1271.4L1707.5 1198.5L1708.7 1198.5L1709.5 1158.6L1711.6 1119.7L1713 1300.5L1714.9 1265.5L1716.5 1335.5L1717.6 1288.9L1718.8 1360.8L1720 1362.7L1720.7 1345.2L1721.9 1366.6L1723.8 1324.8L1725.8 1358.8L1727 1337.5L1728.5 1356.9L1730.4 1320L1732.4 1355L1733.6 1332.6L1735.1 1353L1735.9 1304.4L1737.1 1289.8L1738.2 1232.5L1740.2 1232.5L1742.7 1232.8L1743.2 1180L1744.9 1270.7L1746 1194.9L1747.6 1346.5L1749.2 1219.3L1750.8 1349.2L1751.9 1203L1753.5 1350.6L1755.2 1240.9L1756.8 1322.2L1759.2 1212.5L1761.1 1265.3L1762.7 1351.9L1764.4 1295.1L1766 1351.9L1767.6 1287L1769.2 1338.4L1770.9 1249.1L1772.5 1343.8L1773 1240.9L1775.7 1246.4L1777.4 1297.8L1779 1351.9L1780.6 1270.7L1781.7 1211.2L1782.8 1316.8L1783.3 1027.1L1786.6 1014.1L1788.7 1121.8L1789.8 1262.6L1790.9 1341.1L1792 1265.3L1793.1 1358.7L1794.7 1281.6L1796.3 1351.9L1797.9 1281.6L1799.6 1349.2L1800.6 1230.1L1801.2 1335.7L1803.9 1292.4L1805.5 1346.5L1808 1208.5L1809.8 1328.9L1810.9 1227.4L1811.5 1327.6L1814.2 1350.6L1815.3 1264L1816.9 1253.1L1818 1299.2L1819.1 1220.6L1821.2 1226.1L1821.8 1316.8L1823.4 1259.9L1825 1322.2L1825.6 1235.5L1829.3 1224.7L1829.9 1292.4L1830.4 1203L1833.7 1165.1L1834.2 1305.9L1834.8 1224.7L1838.3 1243.7L1838.8 1193.6L1840.7 1305.9L1841.8 1235.5L1843.4 1311.3L1845.6 1253.1L1847.2 1311.3L1848.8 1240.9L1849.4 1330.3L1851.5 1287L1853.2 1319.5L1855.3 1281.6L1857.5 1270.7L1859.1 1311.3L1860.7 1265.3L1862.4 1216.6L1863.5 1108.3L1864.8 1027.6L1866.7 1151.6L1867.8 1300.5L1868.9 1184.1L1869.4 1303.2L1872.1 1268L1873.7 1270.7L1874.8 1315.4L1876.4 1297.8L1878.1 1219.3L1879.7 1238.2L1881.3 1292.4L1882.4 1335.7L1884 1322.2L1885.7 1361.4L1887.3 1335.7L1888.9 1351.9L1891.1 1346.5L1892.7 1305.9L1894.3 1335.7L1895.9 1297.8L1898.1 1270.7L1899.7 1335.7L1901.4 1349.2L1903 1351.9L1904.6 1373.6L1907.9 1375L1910.6 1371.4L1913.3 1374.1L1916 1366.8L1918.1 1373.6L1921.4 1373.1L1925.2 1368.2L1927.9 1371.4L1931.1 1367.6L1933.8 1370.9L1936.5 1373.1L1939.3 1368.2L1942 1359.5L1944.7 1364.1L1947.4 1370.9L1950.6 1373.6L1953.9 1368.2L1956.6 1361.4L1958.7 1372.3L1962 1370.9L1964.7 1365.5L1966.9 1372.3L1969 1354.7L1970.7 1372.3L1973.4 1375L1976.6 1373.6L1978.8 1365.5L1980.4 1360.1L1982.6 1368.2L1985.3 1373.1L1989.1 1373.1L1992.3 1368.7L1995.6 1366L1999.4 1364.1L2001.5 1370.9L2004.8 1375L2007.5 1373.6L2009.4 1345.2L2011.3 1369.5L2014.8 1371.4L2018.8 1370.4L2021.6 1368.2L2022.6 1358.7L2024.3 1369.5L2027 1372.3L2030.2 1374.1L2033.5 1368.2L2036.2 1366.8L2038.9 1360.1L2040 1356.7L2042 1354.2L2044 1360L2046.7 1361.7L2048.3 1358.3L2049.7 1366.7L2051 1357.5L2053.3 1368.8L2056 1355L2057.3 1350L2058.7 1356.7L2060.3 1362.5L2062.3 1367.5L2064.3 1362.5L2066 1350L2067.3 1348.3L2068.3 1360L2070.3 1340L2072 1352.5L2073.3 1349.2L2075 1366.7L2077 1365L2079 1360.8L2081.7 1352.5L2083.7 1365L2084.7 1373.3L2086.7 1370L2088.7 1368.3L2091 1366.7L2093 1362.5L2095.3 1362.5L2097.3 1364.2L2099.7 1355L2102.2 1364.6L2105 1361.7L2106.3 1362.5L2107.7 1370.8L2110 1374.2L2111.7 1366.7L2113.7 1363.3L2115 1370L2117.5 1355L2119.7 1361.7L2121.3 1358.3L2123 1357.5L2124.3 1352.5L2126 1352.5L2127.3 1343.3L2129 1330.8L2130.7 1348.3L2132 1341.7L2135.7 1341.7L2136.7 1350L2138 1363.3L2139.3 1371.7L2141 1363.3L2143 1357.5L2146.2 1351.2L2148.3 1371.7L2150.3 1373.3L2152 1366.7L2153.7 1373.3L2155.7 1368.3L2157 1359.2L2158.7 1365L2160.3 1360L2161.7 1375L2163 1358.3L2164.3 1352.5L2166 1361.7L2167.3 1352.5L2169.7 1348.8L2171.7 1361.7L2173.3 1358.3L2175 1353.3L2176.7 1349.2L2178 1349.2L2180 1320L2181.7 1356.7L2183.3 1335L2185.3 1348.3L2186.7 1344.2L2188 1357.5L2190.2 1345.4L2192.3 1352.5L2193.7 1357.5L2195.8 1350L2198 1358.3L2200 1370L2201.3 1335L2202.7 1330L2203.3 1288.3L2204.3 1281.7L2206.4 1282L2207 792L2207.6 1300L2209.7 1341.7L2210.7 1277.5L2213.3 1277.5L2214 1329.2L2215.5 1282.5L2216.7 1328.3L2218 1308.3L2220.4 1328.3L2221 1275.8L2221.6 1333.3L2223.3 1359.2L2224.7 1337.5L2226 1359.2L2227.3 1338.3L2228.7 1347.5L2230 1347.5L2231.7 1356.7L2233 1357.5L2235.3 1372.1L2237.7 1363.3L2239.3 1363.3L2241 1351.7L2243.7 1370.4L2246 1358.3L2247.3 1370L2249 1350.8L2251 1370L2253.3 1370.8L2256 1371.7L2258.3 1370L2260 1360L2261.7 1358.3L2263.7 1356.7L2265.3 1360L2267 1350L2268.8 1343.8L2271 1348.3L2272.7 1345L2274 1361.7L2275.8 1333.3L2277.7 1355L2279 1363.3L2280.7 1355L2282 1364.2L2284 1345L2285.7 1366.7L2287 1369.2L2288.3 1360L2289.3 1333.3L2290.6 1308.3L2291.2 1173.8L2291.7 1326.7L2294.5 1320L2295.1 1103.4L2295.7 1300L2297.3 1316.7L2298.8 1271.7L2300.7 1325L2303.8 1300L2304.3 1084L2304.9 1290L2306.8 1301.7L2308.9 1295L2309.4 912.5L2310.4 1280L2311.7 1062.5L2312.2 1262.5L2313.3 1262.5L2315 1262L2315.6 1107.4L2316.2 1290L2317.3 1300L2318.3 1315L2319.7 1296.7L2321.8 1325L2322.3 1165L2322.9 1288.3L2325 1288.3L2325.7 1327.5L2326.7 1318.3L2328.3 1344.2L2330 1333.3L2331.3 1315L2332.7 1340.8L2334 1355L2336 1333.3L2338 1350L2339.3 1349.2L2341 1362.5L2342.7 1302.9L2344.3 1352.1L2345.5 1299.6L2346 1352.1L2348.7 1340.4L2350.7 1360.1L2352.8 1336.8L2354.2 1363.8L2355.7 1349.2L2357.1 1355L2358.3 1354.3L2360 1365.9L2362.6 1340.4L2363.1 1230.3L2363.7 1327.3L2365.3 1325.8L2366.4 1326L2367 222.5L2367.6 1311.3L2370 1339L2371.1 1357.2L2372.9 1339.7L2374.3 1359.4L2376.1 1349.5L2377.2 1363.8L2378.7 1367.4L2380.2 1368.9L2381.9 1365.2L2383.4 1368.1L2384.2 1355L2385.7 1335.3L2386.9 1355.7L2388.5 1320.7L2390.1 1347L2392 1337.5L2393.3 1357.9L2394.2 1350.6L2395 1366.7L2396.5 1364.5L2398.2 1367.4L2400 1369.6L2402 1372.5L2404.5 1368.1L2406.4 1374L2408.8 1374.7L2411.1 1373.2L2414.6 1374.2L2419 1374.8L2423.3 1375.4L2427.7 1376.6L2432.1 1377.2L2435 1375.4L2437.9 1376.1L2439.4 1373.2L2441.4 1374.7L2443.2 1372.5L2444.6 1368.1L2446.1 1347.7L2447.5 1365.2L2449.1 1357.2L2450.2 1372.5L2452.2 1329.5L2454 1374L2455.1 1376.9L2455.7 1375.4" stroke="#ff981c" stroke-width="3.2"/>
<path d="M84 1380L218.7 1380L222.5 1295L223.1 1380L230 1380L232 1357.5L233.7 1380L240 1380L243.3 1360L243.8 1289.5L244.4 1380L325 1380L328.1 1300L328.7 1380L357.5 1380L360.8 1258L363.5 1321L364 1231L370.6 1230.4L371.2 1129.2L371.9 1219.6L372.6 1129.2L373.3 1219.6L374 1154.2L374.6 1230.4L375.2 1154.2L375.8 1230.4L376.3 1154.2L376.9 1230.4L377.4 1128L377.9 1230.4L378.5 1128L379.1 1230.4L379.6 1128L380.2 1230.4L380.7 1128L381.3 1230.4L381.8 1128L382.4 1230.4L382.9 1128L383.5 1230.4L384 1128L384.3 1208.8L384.9 1128L385.6 1228.3L386.2 1128L386.9 1228.3L387.5 1128L388 1228.3L388.6 1128L389.9 1171.7L390.5 1128L391.3 1204.6L391.9 1128L392.6 1204.6L394.4 1128L396.2 1230.4L397.4 1128L398.4 1212.9L398.9 1128L403.6 1128L404.1 1230.8L404.6 1128L410.3 1128L410.8 1210.4L411.3 1128L416.5 1128L417 1224.2L417.6 1128L419.9 1140L420.5 1128L424.6 1128L425.2 1225L425.8 1128L427 1230.4L428 1128L428.9 1204.6L429.6 1128L430.4 1204.6L431 1128L431.8 1195.4L432.5 1128L433.2 1195.4L433.8 1128L439.5 1128L440.7 1136.7L441.6 1158.9L442.9 1180L444.2 1167.8L445.1 1130L446 1118.9L446.9 1113.3L447.8 1117.8L449.8 1107.6L451.3 1117.8L452.2 1126.1L454 1110L454.9 1093.3L458.9 1093.3L459.8 1125.6L461.1 1126.7L462.4 1125.6L464 1092.2L465.3 1125.6L466 1092.2L466.9 1125.6L467.6 1092.2L468.4 1125.6L469.1 1092.2L470 1125.6L470.7 1092.2L471.6 1125.6L472.2 1092.2L473.1 1125.6L473.8 1092.2L474.7 1125.6L475.6 1092.2L477.8 1125.6L480.9 1093.3L482.4 1126.7L484.7 1122.2L486 1125.6L488.2 1122.2L489.8 1115.6L491.3 1125.6L494.4 1126L496.7 1125.1L498.4 1122.2L500 1094.9L501.6 1124.4L503.1 1110L504.7 1124.4L506.7 1106.7L508.2 1125.6L512.2 1126.7L516.7 1126.7L518.2 1103.3L520.2 1144.4L521.8 1097.8L523.3 1125.6L527.8 1126.7L532.2 1126.7L533.6 1091.8L536.7 1091.8L537.6 1124.4L538.9 1091.8L547.3 1091.8L548.7 1103.3L549.6 1125.6L550 1128.9L555.6 1128.2L556.7 1143.3L557.6 1203.3L559.2 1228.9L559.8 1176.7L561.1 1228.9L563.6 1130L564.1 1228.9L566.4 1183.3L567.8 1228.9L570 1152.7L570.5 1228.9L572.7 1201.1L574.4 1236.7L575.8 1218.9L577.1 1238.9L579.5 1257.8L580 1184.4L581.6 1260L582.9 1217.8L584.2 1260L586 1201.1L587.3 1232.2L589.1 1212.2L590.4 1260L592.2 1245.6L593.1 1252.2L595.1 1235.6L597.1 1260L598.4 1245.6L600.9 1232.2L602.9 1283.3L604.9 1243.3L606.9 1270L607.8 1311.1L609.6 1271.1L610.4 1321.1L612.5 1322L617.5 1322.2L620.6 1328.1L623.1 1322.5L636.2 1322.5L639 1324.4L642.5 1322.2L646.2 1323.1L650 1322.2L655 1323.5L660 1324.4L663.8 1328.1L667.5 1325.6L670 1326.9L671.9 1325.6L673.8 1327.5L676.2 1323.8L678.1 1327.5L680 1324.8L682.5 1326.2L685 1325.6L687.5 1326.9L690 1325.6L692.5 1328.1L695 1325.6L698.8 1326.2L702.5 1328.1L706.2 1327.8L710 1328.5L712.5 1326.2L713.1 1329L726.2 1329L728 1326.2L729.4 1329L762.5 1328.8L800 1329.4L812.5 1329L814.1 1336.9L815.6 1329L818.8 1329.4L820.6 1333.8L821.9 1330L823.1 1339.4L825 1330.6L826.2 1338.8L828.1 1331.2L829.4 1341.2L831.2 1331.2L832.5 1341.2L834.4 1331.9L836.2 1343.1L838.8 1344.4L840.6 1340L843.1 1330.6L845 1341.9L846.9 1330.6L848.1 1341.9L850 1330.6L852.2 1343.8L854.4 1331.2L856.2 1338.8L858.8 1343.8L861.2 1331.2L863.1 1340.6L865 1331.2L866.9 1341.2L868.8 1330.6L870.6 1341.2L872.5 1330.6L873.8 1344L875 1331.2L876.2 1344L877.5 1331.9L878.8 1344L880 1330L881.9 1344L883.1 1331.9L884.4 1343.8L885.6 1332.5L886.9 1340L888.8 1327.5L891.2 1322.8L893.1 1327.5L895 1323.1L897.3 1350.6L899.4 1323.1L900 1321.9L900.5 1340L901 1322.5L901.5 1340L902 1322.5L902.5 1340L904.1 1322.2L906.9 1344.4L909 1327.5L910 1322.5L912.5 1321.5L922.5 1321.5L924.4 1325L925.6 1342.5L926.5 1342.5L928.1 1369.4L929.8 1321.9L940 1321.9L942.5 1323.8L945.6 1321.5L949.4 1322.5L950.9 1340L952.5 1330.6L954.7 1336.6L956.9 1330.6L960 1330.6L962.5 1329.8L965 1328.8L966.2 1323.1L970 1323.1L972.5 1324.4L974.4 1330L977.1 1338.1L980 1330.6L982.5 1344.4L985.2 1344.4L986 1323.1L992.5 1323.1L994.4 1335L996.2 1321.9L1002.5 1321.2L1005.6 1315.3L1007.8 1321.2L1010 1323.1L1011.9 1326.2L1015 1325.6L1018.1 1321.9L1021.2 1323.1L1024.4 1324.4L1026.9 1323.1L1027.8 1335L1029.4 1323.1L1030.6 1340L1032.5 1344.4L1033.5 1327.5L1035.3 1333.8L1037.5 1326.2L1040 1316.2L1041.2 1321.2L1044.1 1313.6L1046.9 1318.1L1048.8 1318.1L1050 1320.6L1051.5 1320.6L1052.8 1308.8L1055 1307.5L1059.4 1307.5L1061.2 1311.2L1065.3 1323.1L1069.4 1308.1L1075 1307.5L1076.9 1311.2L1078.5 1304.4L1083.8 1303.5L1086.9 1305.6L1091.2 1307.5L1095 1306.9L1097.5 1304.4L1100 1307.5L1103.8 1307.2L1106.2 1306L1110 1305.6L1112.5 1302.5L1114.1 1273.8L1115.6 1300L1118.1 1303.1L1121.9 1305.6L1124.4 1301.2L1126 1295L1126.9 1287.5L1128.8 1285L1130 1282.5L1131.2 1288.8L1132.5 1281.9L1134.4 1287.5L1136.9 1278.1L1138.8 1285L1141.2 1288.5L1144.4 1287.5L1147.2 1276.6L1150 1285L1151.2 1278.1L1153.8 1284.4L1155 1277.5L1154.5 1251.2L1156.5 1265L1158 1245L1159.5 1260L1161 1221.2L1162.5 1257.5L1164 1230L1166 1243.8L1168 1195L1170 1207.5L1172 1160L1173.5 1137.5L1175.5 1165L1177 1140L1178.5 1152.5L1180.5 1132L1182 1155L1183.5 1192.5L1186 1197.5L1189 1201.2L1191 1182.5L1194 1200L1197 1148.8L1200.5 1185L1201 1103.8L1202.5 1160L1204 1097.5L1205.5 1167.5L1206.5 1092.5L1208.4 977.3L1210.5 992.6L1211.3 970.2L1212.5 993.8L1213.4 921.8L1214.6 936L1216 887.6L1217.5 936L1217.9 899.4L1218.7 933.6L1220.4 921.8L1221 995L1222.6 919.5L1223.2 979.6L1224.1 954.9L1224.9 979.6L1225.7 960.8L1226.5 1006.8L1227.8 1006.8L1229 1080L1230.5 1142.5L1232 1125L1233.5 1146.2L1235.8 1123.8L1237.5 1168.8L1239 1172.5L1240 1222.5L1241 1163.8L1241.5 1270L1243.5 1245L1245 1245L1246.5 1155L1247.8 1080L1249 1017.4L1250.2 1017.4L1252.2 959.6L1252.7 800.3L1253.3 875.8L1254.9 875.8L1255.2 943.1L1255.9 1032.7L1257 1067.5L1258.5 1130L1260 1180L1262.2 1247.5L1264.5 1187.5L1266 1237.5L1267.5 1202.5L1269 1242.5L1270.5 1202.5L1272 1241.2L1274.5 1202.5L1275 1118.8L1275.5 1215L1278 1177.5L1279.5 1215L1281 1237.5L1282 1097.5L1283.5 1085L1285 1045L1286.5 1067.5L1288.7 1030L1289.2 381L1289.7 1030L1291.5 1117.5L1293 1177.5L1294.5 1200L1296.8 1168.8L1300.5 1210L1301 823L1303 946L1303.5 856L1306.3 885.6L1306.8 60L1312.2 857.5L1315.8 688L1317.8 835L1318.7 714.2L1319.6 800L1320.4 724L1321 1103.8L1323 1075L1324.5 1162.5L1326.5 1142.5L1328 1192.5L1329.5 1242.5L1331 1285L1332.5 1327.5L1334 1355L1336.5 1368.8L1337 1247.5L1337.5 1355L1340 1343.8L1341.5 1352.5L1343 1367.5L1344.5 1321.2L1346 1365L1349 1370L1352.5 1368.8L1355 1371.2L1357.5 1365L1359 1345L1360.5 1367.5L1363.7 1370L1364.2 1261.2L1364.8 1362.5L1368.5 1360L1371.5 1357.5L1374 1352.5L1374.5 1294.5L1375 1366.2L1380 1370L1383.8 1367.5L1386 1351.2L1389.3 1371.2L1389.9 1198.8L1390.4 1367.5L1395 1370L1398.8 1372L1402.5 1368.8L1406.2 1371.2L1410 1368.8L1413.8 1373.8L1417.5 1363.8L1420 1373.8L1423 1365L1425.5 1351.2L1427.5 1367.5L1431.2 1371.2L1434.5 1371.2L1436 1355L1439 1369.8L1441.9 1366.6L1443.9 1364.7L1445.8 1369.5L1448.7 1370.5L1451.7 1368.6L1454.6 1363.7L1456.5 1364.7L1457.9 1340.4L1460 1310.2L1462.2 1349.1L1464.1 1326.8L1466.4 1347.2L1469.9 1364.2L1473.8 1352L1475.8 1370.5L1478.1 1374.4L1480.8 1371.5L1482.8 1362.7L1484.3 1372.5L1485.9 1359.8L1487.8 1373.4L1489.8 1366.6L1491.7 1362.7L1493.7 1370.5L1496.4 1373.4L1498.7 1346.2L1500.7 1371.5L1502.2 1341.3L1503.8 1353L1505.3 1351.1L1506.5 1365.7L1508.8 1338.4L1510.8 1356.9L1512.3 1347.2L1513.9 1365.7L1515.8 1343.3L1517 1364.7L1518.2 1335.5L1520.9 1323.9L1521.5 1242.2L1523.2 1323.9L1524.6 1249L1525.1 1349.1L1527.5 1308.3L1530.2 1355L1530.8 1259.7L1532.9 1356.9L1533.5 1306.4L1535.3 1327.7L1537.4 1304.4L1538 1237.3L1539.1 1288.9L1541.1 1162.5L1542.6 1246.1L1543.8 1185.8L1545.6 1319L1546.1 1145L1548.1 1145L1549.6 1130.4L1551.8 1320L1553.9 1271.4L1555.5 1296.6L1556.3 1265.5L1557.8 1250L1558.4 1311.2L1560.5 1214L1561.1 1294.7L1564.1 1258.7L1564.6 1345.2L1566.8 1292.7L1568.7 1330.7L1569.9 1302.5L1571.4 1336.5L1573 1319L1574.1 1358.8L1575.7 1329.7L1577.6 1372.5L1580 1293.7L1581.5 1341.3L1582.7 1300.5L1583.9 1341.3L1585 1327.7L1586.2 1364.7L1587.8 1364.7L1589.7 1362.7L1591.6 1351.1L1593.6 1364.7L1595.5 1353L1597.5 1364.7L1599 1355L1599.8 1372.5L1601 1350.1L1602.5 1362.7L1604.3 1323.9L1605.6 1372.5L1608 1351.1L1609.9 1372.5L1611.1 1360.8L1613 1374.4L1614.2 1362.7L1616.5 1337.5L1618.5 1351.1L1621.2 1337.5L1623.1 1360.8L1624.7 1349.1L1625.9 1362.7L1627.4 1346.2L1628.6 1360.8L1630.3 1337.5L1632.1 1353L1633.2 1346.2L1634.4 1360.8L1636 1370.5L1637.5 1362.7L1639.1 1357.9L1640.6 1367.6L1642.2 1374.4L1643.7 1366.6L1646.7 1374.9L1650 1349.1L1651.9 1364.7L1653.5 1355.9L1655.4 1360.8L1657 1370.5L1658.5 1362.7L1660.5 1358.8L1662 1362.7L1664.5 1346.2L1667.1 1358.8L1669 1353L1670.6 1360.8L1672.1 1353L1673.7 1368.6L1675.6 1362.7L1677.2 1364.7L1678.3 1339.4L1679.5 1298.6L1680.7 1296.6L1682.6 1276.2L1684.2 1339.4L1685.3 1308.3L1686.5 1310.2L1687.3 1362.7L1688.8 1372.5L1690.8 1356.9L1692.3 1371.5L1693.9 1356.9L1695.5 1355L1697 1360.8L1698.6 1340.4L1700.9 1340.4L1701.5 1253.9L1703.6 1319L1705.2 1271.4L1706.7 1271.4L1707.5 1198.5L1708.7 1198.5L1709.5 1158.6L1711.6 1119.7L1713 1300.5L1714.9 1265.5L1716.5 1335.5L1717.6 1288.9L1718.8 1360.8L1720 1362.7L1720.7 1345.2L1721.9 1366.6L1723.8 1324.8L1725.8 1358.8L1727 1337.5L1728.5 1356.9L1730.4 1320L1732.4 1355L1733.6 1332.6L1735.1 1353L1735.9 1304.4L1737.1 1289.8L1738.2 1232.5L1740.2 1232.5L1742.7 1232.8L1743.2 1180L1744.9 1270.7L1746 1194.9L1747.6 1346.5L1749.2 1219.3L1750.8 1349.2L1751.9 1203L1753.5 1350.6L1755.2 1240.9L1756.8 1322.2L1759.2 1212.5L1761.1 1265.3L1762.7 1351.9L1764.4 1295.1L1766 1351.9L1767.6 1287L1769.2 1338.4L1770.9 1249.1L1772.5 1343.8L1773 1240.9L1775.7 1246.4L1777.4 1297.8L1779 1351.9L1780.6 1270.7L1781.7 1211.2L1782.8 1316.8L1783.3 1027.1L1786.6 1014.1L1788.7 1121.8L1789.8 1262.6L1790.9 1341.1L1792 1265.3L1793.1 1358.7L1794.7 1281.6L1796.3 1351.9L1797.9 1281.6L1799.6 1349.2L1800.6 1230.1L1801.2 1335.7L1803.9 1292.4L1805.5 1346.5L1808 1208.5L1809.8 1328.9L1810.9 1227.4L1811.5 1327.6L1814.2 1350.6L1815.3 1264L1816.9 1253.1L1818 1299.2L1819.1 1220.6L1821.2 1226.1L1821.8 1316.8L1823.4 1259.9L1825 1322.2L1825.6 1235.5L1829.3 1224.7L1829.9 1292.4L1830.4 1203L1833.7 1165.1L1834.2 1305.9L1834.8 1224.7L1838.3 1243.7L1838.8 1193.6L1840.7 1305.9L1841.8 1235.5L1843.4 1311.3L1845.6 1253.1L1847.2 1311.3L1848.8 1240.9L1849.4 1330.3L1851.5 1287L1853.2 1319.5L1855.3 1281.6L1857.5 1270.7L1859.1 1311.3L1860.7 1265.3L1862.4 1216.6L1863.5 1108.3L1864.8 1027.6L1866.7 1151.6L1867.8 1300.5L1868.9 1184.1L1869.4 1303.2L1872.1 1268L1873.7 1270.7L1874.8 1315.4L1876.4 1297.8L1878.1 1219.3L1879.7 1238.2L1881.3 1292.4L1882.4 1335.7L1884 1322.2L1885.7 1361.4L1887.3 1335.7L1888.9 1351.9L1891.1 1346.5L1892.7 1305.9L1894.3 1335.7L1895.9 1297.8L1898.1 1270.7L1899.7 1335.7L1901.4 1349.2L1903 1351.9L1904.6 1373.6L1907.9 1375L1910.6 1371.4L1913.3 1374.1L1916 1366.8L1918.1 1373.6L1921.4 1373.1L1925.2 1368.2L1927.9 1371.4L1931.1 1367.6L1933.8 1370.9L1936.5 1373.1L1939.3 1368.2L1942 1359.5L1944.7 1364.1L1947.4 1370.9L1950.6 1373.6L1953.9 1368.2L1956.6 1361.4L1958.7 1372.3L1962 1370.9L1964.7 1365.5L1966.9 1372.3L1969 1354.7L1970.7 1372.3L1973.4 1375L1976.6 1373.6L1978.8 1365.5L1980.4 1360.1L1982.6 1368.2L1985.3 1373.1L1989.1 1373.1L1992.3 1368.7L1995.6 1366L1999.4 1364.1L2001.5 1370.9L2004.8 1375L2007.5 1373.6L2009.4 1345.2L2011.3 1369.5L2014.8 1371.4L2018.8 1370.4L2021.6 1368.2L2022.6 1358.7L2024.3 1369.5L2027 1372.3L2030.2 1374.1L2033.5 1368.2L2036.2 1366.8L2038.9 1360.1L2040 1356.7L2042 1354.2L2044 1360L2046.7 1361.7L2048.3 1358.3L2049.7 1366.7L2051 1357.5L2053.3 1368.8L2056 1355L2057.3 1350L2058.7 1356.7L2060.3 1362.5L2062.3 1367.5L2064.3 1362.5L2066 1350L2067.3 1348.3L2068.3 1360L2070.3 1340L2072 1352.5L2073.3 1349.2L2075 1366.7L2077 1365L2079 1360.8L2081.7 1352.5L2083.7 1365L2084.7 1373.3L2086.7 1370L2088.7 1368.3L2091 1366.7L2093 1362.5L2095.3 1362.5L2097.3 1364.2L2099.7 1355L2102.2 1364.6L2105 1361.7L2106.3 1362.5L2107.7 1370.8L2110 1374.2L2111.7 1366.7L2113.7 1363.3L2115 1370L2117.5 1355L2119.7 1361.7L2121.3 1358.3L2123 1357.5L2124.3 1352.5L2126 1352.5L2127.3 1343.3L2129 1330.8L2130.7 1348.3L2132 1341.7L2135.7 1341.7L2136.7 1350L2138 1363.3L2139.3 1371.7L2141 1363.3L2143 1357.5L2146.2 1351.2L2148.3 1371.7L2150.3 1373.3L2152 1366.7L2153.7 1373.3L2155.7 1368.3L2157 1359.2L2158.7 1365L2160.3 1360L2161.7 1375L2163 1358.3L2164.3 1352.5L2166 1361.7L2167.3 1352.5L2169.7 1348.8L2171.7 1361.7L2173.3 1358.3L2175 1353.3L2176.7 1349.2L2178 1349.2L2180 1320L2181.7 1356.7L2183.3 1335L2185.3 1348.3L2186.7 1344.2L2188 1357.5L2190.2 1345.4L2192.3 1352.5L2193.7 1357.5L2195.8 1350L2198 1358.3L2200 1370L2201.3 1335L2202.7 1330L2203.3 1288.3L2204.3 1281.7L2206.4 1282L2207 792L2207.6 1300L2209.7 1341.7L2210.7 1277.5L2213.3 1277.5L2214 1329.2L2215.5 1282.5L2216.7 1328.3L2218 1308.3L2220.4 1328.3L2221 1275.8L2221.6 1333.3L2223.3 1359.2L2224.7 1337.5L2226 1359.2L2227.3 1338.3L2228.7 1347.5L2230 1347.5L2231.7 1356.7L2233 1357.5L2235.3 1372.1L2237.7 1363.3L2239.3 1363.3L2241 1351.7L2243.7 1370.4L2246 1358.3L2247.3 1370L2249 1350.8L2251 1370L2253.3 1370.8L2256 1371.7L2258.3 1370L2260 1360L2261.7 1358.3L2263.7 1356.7L2265.3 1360L2267 1350L2268.8 1343.8L2271 1348.3L2272.7 1345L2274 1361.7L2275.8 1333.3L2277.7 1355L2279 1363.3L2280.7 1355L2282 1364.2L2284 1345L2285.7 1366.7L2287 1369.2L2288.3 1360L2289.3 1333.3L2290.6 1308.3L2291.2 1173.8L2291.7 1326.7L2294.5 1320L2295.1 1103.4L2295.7 1300L2297.3 1316.7L2298.8 1271.7L2300.7 1325L2303.8 1300L2304.3 1084L2304.9 1290L2306.8 1301.7L2308.9 1295L2309.4 912.5L2310.4 1280L2311.7 1062.5L2312.2 1262.5L2313.3 1262.5L2315 1262L2315.6 1107.4L2316.2 1290L2317.3 1300L2318.3 1315L2319.7 1296.7L2321.8 1325L2322.3 1165L2322.9 1288.3L2325 1288.3L2325.7 1327.5L2326.7 1318.3L2328.3 1344.2L2330 1333.3L2331.3 1315L2332.7 1340.8L2334 1355L2336 1333.3L2338 1350L2339.3 1349.2L2341 1362.5L2342.7 1302.9L2344.3 1352.1L2345.5 1299.6L2346 1352.1L2348.7 1340.4L2350.7 1360.1L2352.8 1336.8L2354.2 1363.8L2355.7 1349.2L2357.1 1355L2358.3 1354.3L2360 1365.9L2362.6 1340.4L2363.1 1230.3L2363.7 1327.3L2365.3 1325.8L2366.4 1326L2367 222.5L2367.6 1311.3L2370 1339L2371.1 1357.2L2372.9 1339.7L2374.3 1359.4L2376.1 1349.5L2377.2 1363.8L2378.7 1367.4L2380.2 1368.9L2381.9 1365.2L2383.4 1368.1L2384.2 1355L2385.7 1335.3L2386.9 1355.7L2388.5 1320.7L2390.1 1347L2392 1337.5L2393.3 1357.9L2394.2 1350.6L2395 1366.7L2396.5 1364.5L2398.2 1367.4L2400 1369.6L2402 1372.5L2404.5 1368.1L2406.4 1374L2408.8 1374.7L2411.1 1373.2L2414.6 1374.2L2419 1374.8L2423.3 1375.4L2427.7 1376.6L2432.1 1377.2L2435 1375.4L2437.9 1376.1L2439.4 1373.2L2441.4 1374.7L2443.2 1372.5L2444.6 1368.1L2446.1 1347.7L2447.5 1365.2L2449.1 1357.2L2450.2 1372.5L2452.2 1329.5L2454 1374L2455.1 1376.9L2455.7 1375.4" stroke="#ff981c" stroke-width="3.2" transform="translate(0.7,0)"/>
</g>
<g fill="#000" fill-opacity="0.07" fill-rule="evenodd">
<g transform="translate(880,640) scale(0.140625)">
<path d="M548,370C500,350 440,338 385,338C200,338 80,470 80,653C80,840 200,968 385,968C450,968 510,955 555,935L535,810C490,828 450,835 400,835C300,835 235,770 235,653C235,540 300,470 395,470C440,470 480,478 515,490Z"/>
<path d="M612,653a291.5,315 0 1,0 583,0a291.5,315 0 1,0 -583,0ZM768,651.5a136,183.5 0 1,0 272,0a136,183.5 0 1,0 -272,0Z"/>
<path d="M1325,952L1325,385C1390,360 1470,340 1545,340C1600,340 1655,348 1703,362L1675,490C1640,480 1600,470 1555,470C1525,470 1500,475 1478,485L1478,952Z"/>
<path d="M2275,930C2220,952 2140,968 2060,968C1870,968 1757,840 1757,655C1757,470 1880,338 2040,338C2210,338 2310,460 2310,650C2310,670 2308,690 2305,700L1918,700C1930,790 1990,835 2085,835C2150,835 2205,822 2250,805ZM1918,590L2160,590C2155,515 2110,465 2040,465C1975,465 1928,515 1918,590Z"/>
</g>
<g transform="translate(1210,640) scale(0.1875)">
<path d="M440,278C405,262 365,255 325,255C190,255 105,350 105,490C105,630 190,722 330,722C375,722 415,714 448,700L435,632C405,645 370,648 335,648C245,648 195,585 195,490C195,395 245,330 330,330C365,330 395,336 425,345Z"/>
<path d="M535,715L535,62L623,48L623,275C655,262 690,255 730,255C850,255 900,320 900,440L900,715L812,715L812,450C812,365 785,330 715,330C680,330 650,338 623,350L623,715Z"/>
<path d="M1045,275C1090,262 1135,255 1180,255C1300,255 1355,315 1355,430L1355,700C1300,712 1245,722 1190,722C1075,722 998,680 998,580C998,485 1075,440 1180,440C1210,440 1240,443 1268,447L1268,430C1268,365 1240,330 1170,330C1130,330 1090,338 1058,350ZM1268,518C1245,512 1220,508 1190,508C1125,508 1088,530 1088,580C1088,630 1125,650 1195,650C1222,650 1248,647 1268,643Z"/>
<path d="M1478,715L1478,290C1525,270 1575,258 1625,258C1665,258 1705,263 1742,272L1725,345C1695,336 1665,330 1635,330C1610,330 1588,338 1566,348L1566,715Z"/>
<path d="M1812,145L1898,130L1898,268L2067,268L2067,340L1898,340L1898,555C1898,620 1925,648 1985,648C2015,648 2042,640 2065,630L2085,695C2050,712 2010,722 1965,722C1860,722 1812,670 1812,565Z"/>
<path d="M2425,278C2385,262 2345,255 2300,255C2200,255 2137,305 2137,385C2137,450 2180,485 2260,520C2330,550 2360,565 2360,600C2360,635 2335,648 2280,648C2230,648 2190,640 2148,625L2128,695C2175,712 2225,722 2280,722C2385,722 2448,680 2448,598C2448,530 2405,495 2320,458C2250,428 2225,415 2225,385C2225,350 2255,330 2310,330C2345,330 2378,338 2408,350Z"/>
</g>
</g>
<g font-family="Liberation Sans, sans-serif" font-size="24" fill="#626e8c" stroke="#626e8c" stroke-width="0.3">
<text x="68.6" y="82" text-anchor="end">1K</text>
<text x="68.6" y="343.6" text-anchor="end">800</text>
<text x="68.6" y="604.8" text-anchor="end">600</text>
<text x="68.6" y="866" text-anchor="end">400</text>
<text x="68.6" y="1127.2" text-anchor="end">200</text>
<text x="68.6" y="1388.3" text-anchor="end">0</text>
<text x="2472" y="82">$73K</text>
<text x="2472" y="267.1">$10K</text>
<text x="2472" y="481.6">$1K</text>
<text x="2472" y="696.2">$100</text>
<text x="2472" y="910.8">$10</text>
<text x="2472" y="1125.4">$1</text>
<text x="2472" y="1340.1">$0.1</text>
<text x="2472" y="1388.2">$0.06</text>
<text x="306.3" y="1404" text-anchor="middle">2012</text>
<text x="642.3" y="1404" text-anchor="middle">2014</text>
<text x="976.3" y="1404" text-anchor="middle">2016</text>
<text x="1312.3" y="1404" text-anchor="middle">2018</text>
<text x="1646.3" y="1404" text-anchor="middle">2020</text>
<text x="1982.3" y="1404" text-anchor="middle">2022</text>
<text x="2316.3" y="1404" text-anchor="middle">2024</text>
</g>
<rect x="1119" y="31" width="16" height="16" rx="4" fill="#ff981c"/>
<rect x="1325" y="31" width="16" height="16" rx="4" fill="#0f172a"/>
<g font-family="Liberation Sans, sans-serif" font-size="22" fill="#1e2a45" stroke="#1e2a45" stroke-width="0.25">
<text x="1144.2" y="44.8">feerate_p50_svb</text>
<text x="1350.4" y="44.8">BTCUSD</text>
</g>
</svg>
</body></html>
